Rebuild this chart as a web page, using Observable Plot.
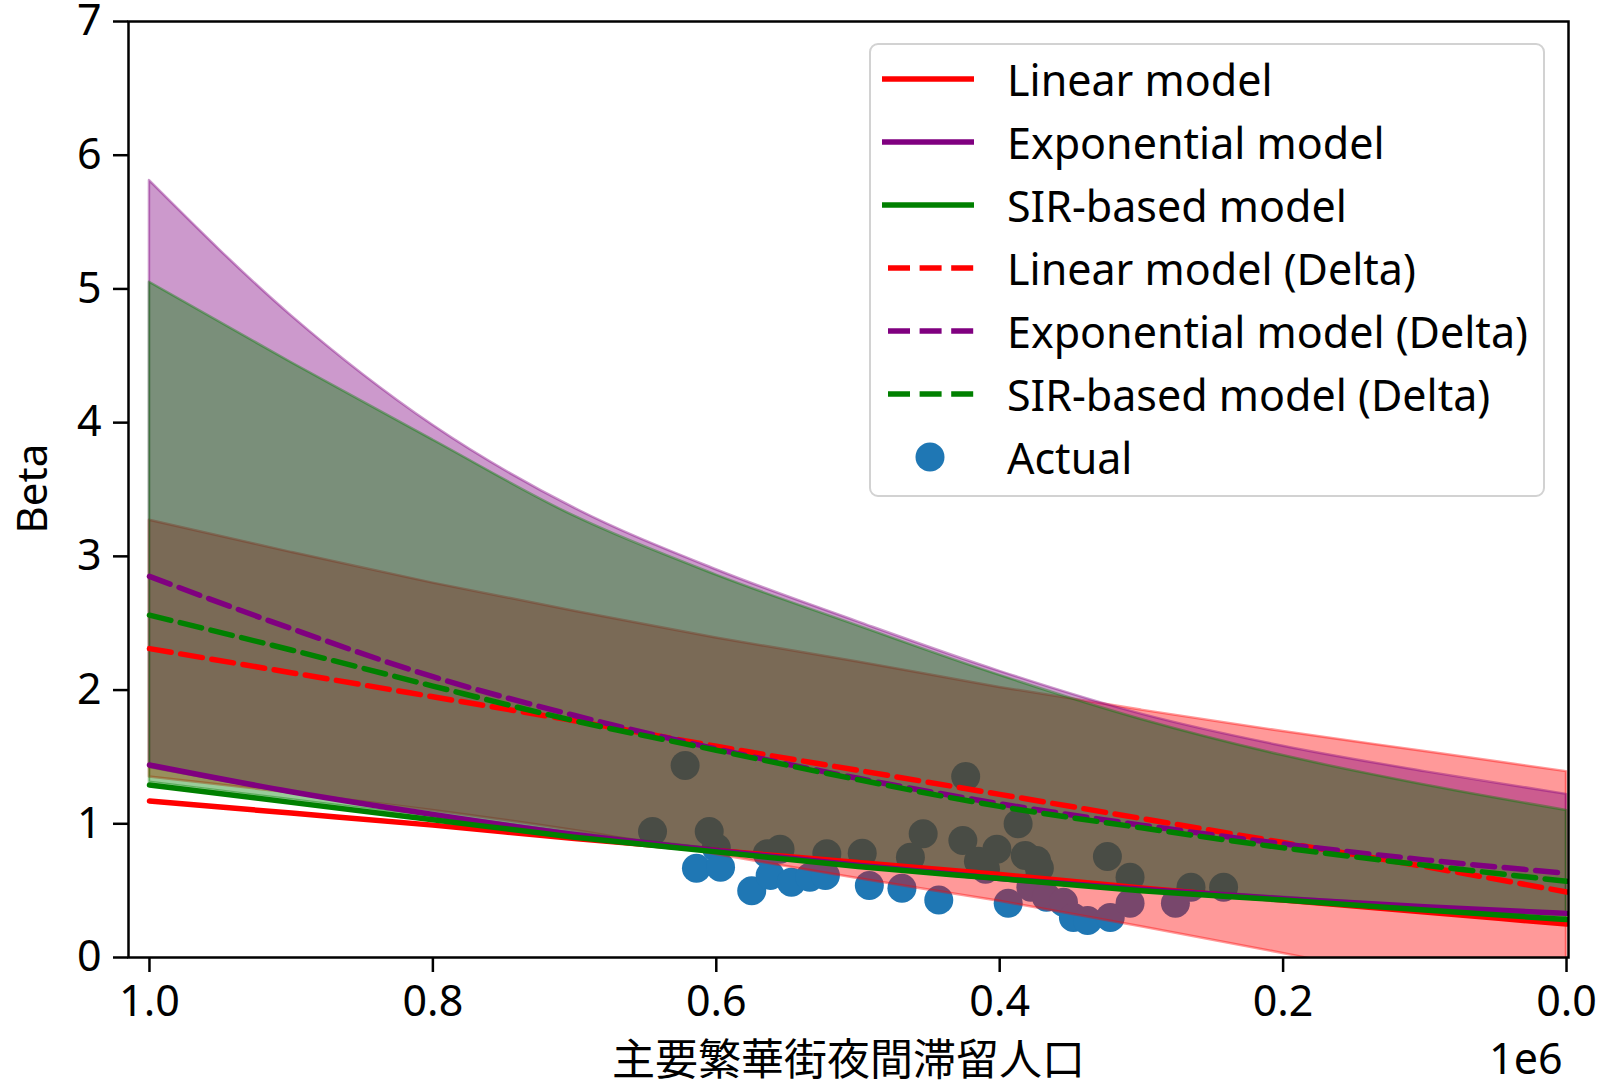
<!DOCTYPE html>
<html>
<head>
<meta charset="utf-8">
<script src="https://cdn.jsdelivr.net/npm/d3@7"></script>
<script src="https://cdn.jsdelivr.net/npm/@observablehq/plot@0.6"></script>
<style>
  body { margin: 0; background: #fff; }
  #wrap { position: relative; width: 1610px; height: 1088px; font-family: "Noto Sans", "Noto Sans CJK JP", sans-serif; }
  #legend { position: absolute; left: 869px; top: 43px; width: 676px; height: 454px; box-sizing: border-box;
            border: 2.5px solid #d2d2d2; border-radius: 9px; background: rgba(255,255,255,0.8); }
  .row { position: absolute; left: 0; height: 60px; }
  .row svg { position: absolute; left: 11px; top: 10px; }
  .row span { position: absolute; left: 136px; font-size: 43px; white-space: nowrap; color: #000; line-height: 1; transform: translateY(-50%); top: 50%; }
</style>
</head>
<body>
<div id="wrap"></div>
<script>
// ---- data (x = 主要繁華街夜間滞留人口, y = Beta) ----
const xGrid = [1000000, 900000, 800000, 700000, 600000, 500000, 400000, 300000, 200000, 100000, 0];

const linearModel      = [1.17, 1.08, 0.99, 0.89, 0.80, 0.71, 0.62, 0.52, 0.43, 0.34, 0.25];
const expModel         = [1.44, 1.24, 1.07, 0.92, 0.80, 0.69, 0.59, 0.51, 0.44, 0.38, 0.33];
const sirModel         = [1.29, 1.16, 1.03, 0.90, 0.79, 0.68, 0.59, 0.50, 0.43, 0.355, 0.284];

const linearDelta      = [2.31, 2.13, 1.95, 1.77, 1.58, 1.40, 1.22, 1.04, 0.86, 0.68, 0.49];
const expDelta         = [2.85, 2.46, 2.10, 1.81, 1.56, 1.34, 1.15, 0.99, 0.85, 0.73, 0.63];
const sirDelta         = [2.56, 2.30, 2.03, 1.77, 1.55, 1.33, 1.13, 0.97, 0.82, 0.69, 0.57];

const linearBandLow    = [1.35, 1.23, 1.10, 0.95, 0.77, 0.59, 0.42, 0.23, 0.03, -0.18, -0.41];
const linearBandHigh   = [3.27, 3.03, 2.80, 2.59, 2.39, 2.21, 2.02, 1.85, 1.69, 1.54, 1.39];
const expBandLow       = [1.42, 1.23, 1.07, 0.93, 0.81, 0.70, 0.60, 0.52, 0.45, 0.38, 0.33];
const expBandHigh      = [5.81, 4.80, 3.98, 3.36, 2.90, 2.51, 2.14, 1.82, 1.58, 1.39, 1.22];
const sirBandLow       = [1.31, 1.18, 1.05, 0.92, 0.81, 0.70, 0.61, 0.52, 0.44, 0.37, 0.30];
const sirBandHigh      = [5.05, 4.45, 3.87, 3.30, 2.86, 2.48, 2.11, 1.78, 1.51, 1.29, 1.10];

const actualX = [622000, 645000, 605000, 600000, 614000, 597000, 575000, 564000, 555000, 562000,
                 547000, 534000, 522000, 523000, 497000, 492000, 454000, 463000, 469000, 443000,
                 424000, 426000, 387000, 402000, 415000, 382000, 374000, 378000, 394000, 367000,
                 355000, 348000, 338000, 322000, 308000, 324000, 308000, 265000, 276000, 242000,
                 372000, 410000];
const actualY = [1.436, 0.942, 0.942, 0.82, 0.668, 0.675, 0.50, 0.776, 0.81, 0.613,
                 0.563, 0.60, 0.776, 0.613, 0.78, 0.538, 0.925, 0.75, 0.518, 0.43,
                 1.354, 0.875, 1.0, 0.81, 0.72, 0.763, 0.725, 0.526, 0.406, 0.451,
                 0.413, 0.30, 0.277, 0.30, 0.406, 0.755, 0.60, 0.526, 0.406, 0.526,
                 0.67, 0.66];

const xTicks = [1000000, 800000, 600000, 400000, 200000, 0];
const yTicks = [0, 1, 2, 3, 4, 5, 6, 7];
const xLabel = "主要繁華街夜間滞留人口";
const yLabel = "Beta";
const xOffsetLabel = "1e6";

const legendItems = [
  {label: "Linear model", color: "red", dash: false},
  {label: "Exponential model", color: "purple", dash: false},
  {label: "SIR-based model", color: "green", dash: false},
  {label: "Linear model (Delta)", color: "red", dash: true},
  {label: "Exponential model (Delta)", color: "purple", dash: true},
  {label: "SIR-based model (Delta)", color: "green", dash: true},
  {label: "Actual", color: "#1f77b4", dot: true}
];

// ---- tables ----
const series = arr => xGrid.map((x, i) => ({x, y: arr[i]}));
const band = (lo, hi) => xGrid.map((x, i) => ({x, y1: lo[i], y2: hi[i]}));
const actual = actualX.map((x, i) => ({x, y: actualY[i]}));

const DASH = "22,9.6";
const LW = 5.5;

const bandMark = (data, color) => Plot.areaY(data, {
  x: "x", y1: "y1", y2: "y2", fill: color, fillOpacity: 0.4,
  stroke: color, strokeOpacity: 0.4, strokeWidth: 2.5, clip: true, curve: "monotone-x"
});
const lineMark = (data, color, dashed) => Plot.line(data, {
  x: "x", y: "y", stroke: color, strokeWidth: LW, clip: true,
  strokeDasharray: dashed ? DASH : null, curve: "monotone-x"
});

const FONT = "Noto Sans, Noto Sans CJK JP, sans-serif";

const chart = Plot.plot({
  width: 1610,
  height: 1088,
  marginLeft: 128,
  marginRight: 42,
  marginTop: 21,
  marginBottom: 131,
  style: {fontFamily: FONT, fontSize: "43px", color: "#000", background: "#fff", overflow: "visible"},
  x: {domain: [1014800, -1400]},
  y: {domain: [0, 7]},
  marks: [
    Plot.dot(actual, {x: "x", y: "y", r: 14.5, fill: "#1f77b4", stroke: null}),
    bandMark(band(linearBandLow, linearBandHigh), "red"),
    bandMark(band(expBandLow, expBandHigh), "purple"),
    bandMark(band(sirBandLow, sirBandHigh), "green"),
    lineMark(series(linearModel), "red", false),
    lineMark(series(expModel), "purple", false),
    lineMark(series(sirModel), "green", false),
    lineMark(series(linearDelta), "red", true),
    lineMark(series(expDelta), "purple", true),
    lineMark(series(sirDelta), "green", true),
    Plot.frame({stroke: "#000", strokeWidth: 2.5}),
    Plot.axisX({ticks: xTicks, tickSize: 15, tickPadding: 13, strokeWidth: 2.5,
                tickFormat: d => (d / 1e6).toFixed(1), label: null, fontSize: 43}),
    Plot.axisY({ticks: yTicks, tickSize: 15, tickPadding: 12, strokeWidth: 2.5,
                tickFormat: d => String(d), label: null, fontSize: 43}),
    Plot.text([xLabel], {text: d => d, frameAnchor: "bottom", dy: 117, fontSize: 43, fontFamily: "Noto Sans CJK JP"}),
    Plot.text([xOffsetLabel], {text: d => d, frameAnchor: "bottom-right", textAnchor: "end", dy: 116, dx: -6, fontSize: 43}),
    Plot.text([yLabel], {text: d => d, frameAnchor: "left", rotate: -90, dx: -95, dy: 44, fontSize: 42})
  ]
});

const wrap = document.getElementById("wrap");
wrap.appendChild(chart);

// ---- legend ----
const legend = document.createElement("div");
legend.id = "legend";
legendItems.forEach((it, i) => {
  const row = document.createElement("div");
  row.className = "row";
  row.style.top = (4 + i * 63) + "px";
  row.style.width = "100%";
  let sw;
  if (it.dot) {
    sw = `<svg width="100" height="40"><circle cx="48" cy="20" r="14.5" fill="${it.color}"/></svg>`;
  } else {
    sw = `<svg width="100" height="40"><line x1="${it.dash ? 6 : 0}" x2="92" y1="20" y2="20" stroke="${it.color}" stroke-width="${LW}" ${it.dash ? `stroke-dasharray="${DASH}"` : ""}/></svg>`;
  }
  row.innerHTML = sw + `<span>${it.label}</span>`;
  legend.appendChild(row);
});
wrap.appendChild(legend);
</script>
</body>
</html>
